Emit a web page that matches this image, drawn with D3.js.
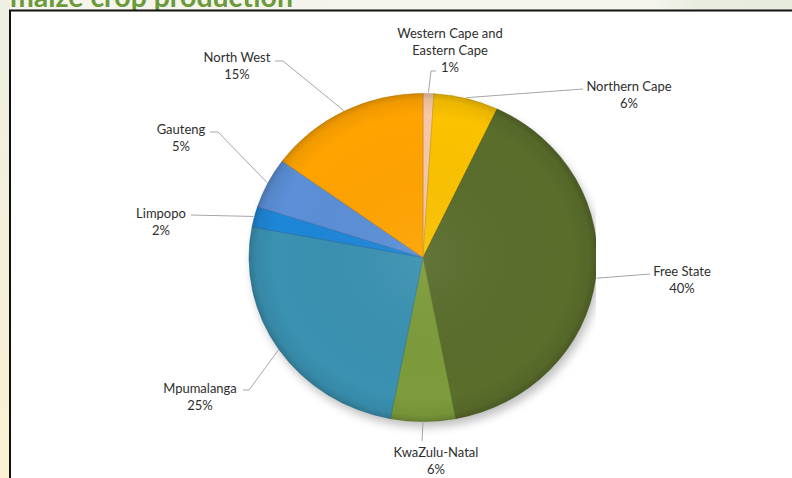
<!DOCTYPE html>
<html><head><meta charset="utf-8">
<script src="https://cdn.jsdelivr.net/npm/d3@7"></script>
<style>body{margin:0;background:#f2f3ea;overflow:hidden} svg{display:block}</style>
</head><body>
<svg id="c" width="792" height="478"></svg>
<script>
// ---- data ----
const categories = ["Western Cape and Eastern Cape","Northern Cape","Free State","KwaZulu-Natal","Mpumalanga","Limpopo","Gauteng","North West"];
const labelLines = [["Western Cape and","Eastern Cape"],["Northern Cape"],["Free State"],["KwaZulu-Natal"],["Mpumalanga"],["Limpopo"],["Gauteng"],["North West"]];
const shares = [1,6,40,6,25,2,5,15];
const percentLabels = ["1%","6%","40%","6%","25%","2%","5%","15%"];
const colors = ["#f7c8a8","#fbc200","#5a6d2b","#7d9c3b","#3a91b1","#1e86d7","#5b8fd7","#ffa300"];
const title = "maize crop production";

// ---- layout (label block positions & leader elbows) ----
const labelLayout = [
  {x:450,y:33, elbow:[[431,71],[436,71]]},
  {x:629,y:86, elbow:[[583,89]]},
  {x:682,y:271,elbow:[[650,274]]},
  {x:436,y:452,elbow:[[422,441]]},
  {x:200,y:388,elbow:[[249,390],[243,390]]},
  {x:161,y:213,elbow:[[191,215]]},
  {x:181,y:129,elbow:[[218,132],[210,132]]},
  {x:237,y:57, elbow:[[283,61],[275,61]]}
];

const svg = d3.select("#c");
const defs = svg.append("defs");

// background pieces
const bg = defs.append("linearGradient").attr("id","bgTop").attr("x1","0").attr("x2","1");
bg.append("stop").attr("offset","0").attr("stop-color","#f4f4ec");
bg.append("stop").attr("offset","0.82").attr("stop-color","#f5f5ee");
bg.append("stop").attr("offset","0.88").attr("stop-color","#e9eddf");
bg.append("stop").attr("offset","1").attr("stop-color","#e8ecdd");
svg.append("rect").attr("x",0).attr("y",0).attr("width",792).attr("height",478).attr("fill","url(#bgTop)");
const lg = defs.append("linearGradient").attr("id","bgLeft").attr("x1","0").attr("x2","0").attr("y1","0").attr("y2","1");
lg.append("stop").attr("offset","0").attr("stop-color","#eef0e4");
lg.append("stop").attr("offset","0.4").attr("stop-color","#f3f0dc");
lg.append("stop").attr("offset","1").attr("stop-color","#fbf1d2");
svg.append("rect").attr("x",0).attr("y",0).attr("width",10).attr("height",478).attr("fill","url(#bgLeft)");

// title (cut off at top, as in the reference)
svg.append("text").attr("x",10).attr("y",7)
  .attr("font-family","Lato").attr("font-weight","bold").attr("font-size",28)
  .attr("fill","#6c9a3b").attr("textLength",283).attr("lengthAdjust","spacingAndGlyphs")
  .text(title);

// chart area
svg.append("rect").attr("x",10).attr("y",10.5).attr("width",800).attr("height",490)
  .attr("fill","#ffffff").attr("stroke","#111").attr("stroke-width",2);

// pie
const cx = 423, cy = 257.5, R = 174, yScale = 0.943;
const pie = d3.pie().sort(null).value(d=>d).startAngle(0).endAngle(2*Math.PI);
const arcs = pie(shares);
const arc = d3.arc().innerRadius(0).outerRadius(R);
const rimArc = d3.arc().innerRadius(R+1).outerRadius(R+1);

const shadow = defs.append("filter").attr("id","sh").attr("x","-20%").attr("y","-20%").attr("width","140%").attr("height","140%");
shadow.append("feGaussianBlur").attr("stdDeviation",5);

const rg = defs.append("radialGradient").attr("id","bevel").attr("gradientUnits","userSpaceOnUse")
  .attr("cx",0).attr("cy",0).attr("r",R);
rg.append("stop").attr("offset","0").attr("stop-color","#fff").attr("stop-opacity",0.06);
rg.append("stop").attr("offset","0.86").attr("stop-color","#000").attr("stop-opacity",0);
rg.append("stop").attr("offset","0.96").attr("stop-color","#000").attr("stop-opacity",0.06);
rg.append("stop").attr("offset","1").attr("stop-color","#000").attr("stop-opacity",0.18);

defs.append("clipPath").attr("id","pclip").append("rect").attr("x",10).attr("y",10).attr("width",586).attr("height",480);

const pg = svg.append("g").attr("clip-path","url(#pclip)")
  .append("g").attr("transform",`translate(${cx},${cy}) scale(1,${yScale})`);

pg.append("circle").attr("cx",3).attr("cy",6).attr("r",R).attr("fill","#000").attr("opacity",0.25).attr("filter","url(#sh)");

pg.selectAll("path.slice").data(arcs).join("path").attr("class","slice")
  .attr("d",arc).attr("fill",(d,i)=>colors[i])
  .attr("stroke",(d,i)=>d3.color(colors[i]).darker(0.6)).attr("stroke-width",0.8).attr("stroke-opacity",0.7);

pg.selectAll("path.bev").data(arcs).join("path").attr("class","bev")
  .attr("d",arc).attr("fill","url(#bevel)");

// leader lines
const lineGen = d3.line();
svg.append("g").selectAll("path").data(arcs).join("path")
  .attr("d",(d,i)=>{
    const c = rimArc.centroid(d);
    const p0 = [cx + c[0], cy + c[1]*yScale];
    return lineGen([p0, ...labelLayout[i].elbow]);
  })
  .attr("fill","none").attr("stroke","#a6a6a6").attr("stroke-width",1);

// labels
const lab = svg.append("g").attr("font-family","Lato").attr("font-size",13).attr("fill","#2e2e2e")
  .attr("text-anchor","middle");
arcs.forEach((d,i)=>{
  const L = labelLayout[i];
  const lines = labelLines[i].concat([percentLabels[i]]);
  const t = lab.append("text").attr("x",L.x).attr("y",L.y);
  lines.forEach((s,k)=>{
    t.append("tspan").attr("x",L.x).attr("y",L.y + k*17.2).attr("dy","0.35em").text(s);
  });
});
</script>
</body></html>
